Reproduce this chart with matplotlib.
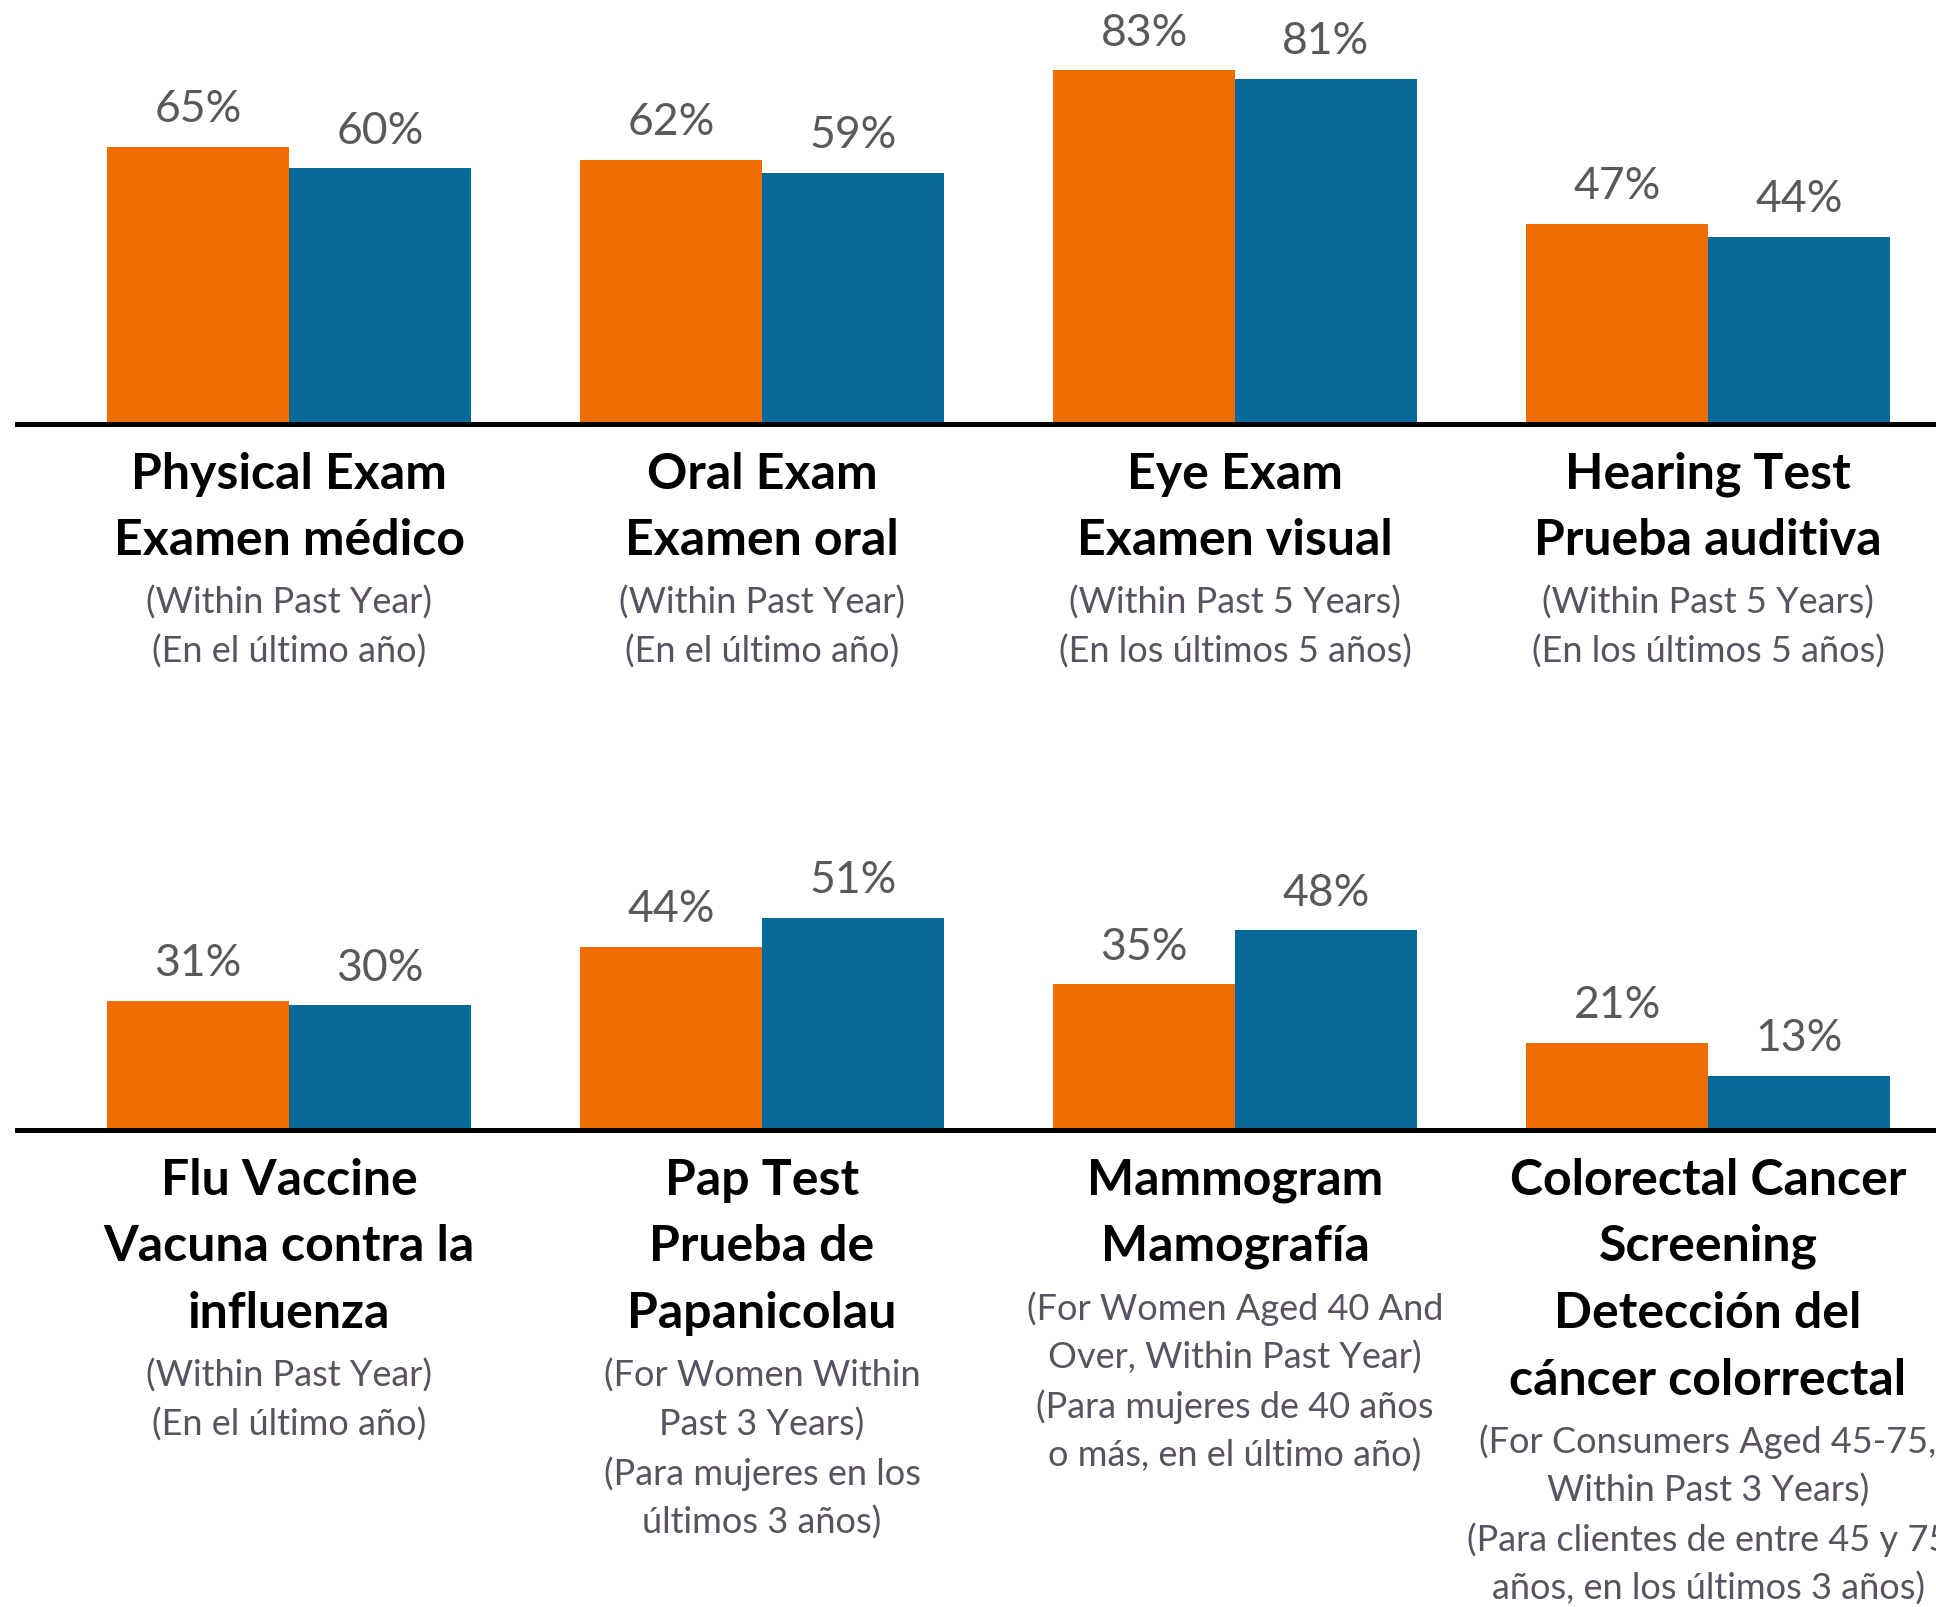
import matplotlib
matplotlib.use("Agg")
import matplotlib.pyplot as plt
import numpy as np

# values (percent)
top_orange = [65, 62, 83, 47]
top_blue = [60, 59, 81, 44]
bottom_orange = [31, 44, 35, 21]
bottom_blue = [30, 51, 48, 13]

top_titles = [
    ["Physical Exam", "Examen médico"],
    ["Oral Exam", "Examen oral"],
    ["Eye Exam", "Examen visual"],
    ["Hearing Test", "Prueba auditiva"],
]
top_notes = [
    ["(Within Past Year)", "(En el último año)"],
    ["(Within Past Year)", "(En el último año)"],
    ["(Within Past 5 Years)", "(En los últimos 5 años)"],
    ["(Within Past 5 Years)", "(En los últimos 5 años)"],
]
bottom_titles = [
    ["Flu Vaccine", "Vacuna contra la", "influenza"],
    ["Pap Test", "Prueba de", "Papanicolau"],
    ["Mammogram", "Mamografía"],
    ["Colorectal Cancer", "Screening", "Detección del", "cáncer colorrectal"],
]
bottom_notes = [
    ["(Within Past Year)", "(En el último año)"],
    ["(For Women Within", "Past 3 Years)", "(Para mujeres en los", "últimos 3 años)"],
    ["(For Women Aged 40 And", "Over, Within Past Year)", "(Para mujeres de 40 años", "o más, en el último año)"],
    ["(For Consumers Aged 45-75,", "Within Past 3 Years)", "(Para clientes de entre 45 y 75", "años, en los últimos 3 años)"],
]

ORANGE = "#EF6C00"
BLUE = "#07699A"
FONT = "Lato"

W, H = 1936, 1608
fig = plt.figure(figsize=(W / 100, H / 100), dpi=100)

bar_w = 0.384
xlim = (-0.611, 3.482)


def panel(rect, ylim, orange, blue, titles, notes):
    ax = fig.add_axes(rect)
    ax.patch.set_visible(False)
    x = np.arange(len(orange))
    b1 = ax.bar(x - bar_w / 2, orange, bar_w, color=ORANGE)
    b2 = ax.bar(x + bar_w / 2, blue, bar_w, color=BLUE)
    for bars, vals in ((b1, orange), (b2, blue)):
        for b, v in zip(bars, vals):
            ax.annotate(f"{v}%", (b.get_x() + b.get_width() / 2, v),
                        xytext=(0, 27.5), textcoords="offset points",
                        ha="center", va="center", fontsize=32,
                        color="#595959", family=FONT)
    ax.set_xlim(*xlim)
    ax.set_ylim(*ylim)
    ax.axhline(0, xmin=0.009, xmax=1, color="black", lw=3.6, clip_on=False)
    for s in ax.spines.values():
        s.set_visible(False)
    ax.set_xticks([])
    ax.set_yticks([])

    # category labels below the baseline
    for i in range(len(titles)):
        off = 35.3
        for line in titles[i]:
            ax.annotate(line, (i, 0), xytext=(0, -off), textcoords="offset points",
                        ha="center", va="center", fontsize=36, fontweight="bold",
                        color="black", family=FONT, annotation_clip=False)
            off += 48
        off += 44.6 - 48
        for line in notes[i]:
            ax.annotate(line, (i, 0), xytext=(0, -off), textcoords="offset points",
                        ha="center", va="center", fontsize=26,
                        color="#5A5261", family=FONT, annotation_clip=False)
            off += 35.3
    return ax


top_h = 425 / H
panel([0, 1 - top_h, 1, top_h], (0, 425 / 4.26), top_orange, top_blue, top_titles, top_notes)

bot_base = 1131
bot_top = 700
panel([0, 1 - bot_base / H, 1, (bot_base - bot_top) / H], (0, (bot_base - bot_top) / 4.16),
      bottom_orange, bottom_blue, bottom_titles, bottom_notes)

fig.savefig("out.png", dpi=100, facecolor="white")
